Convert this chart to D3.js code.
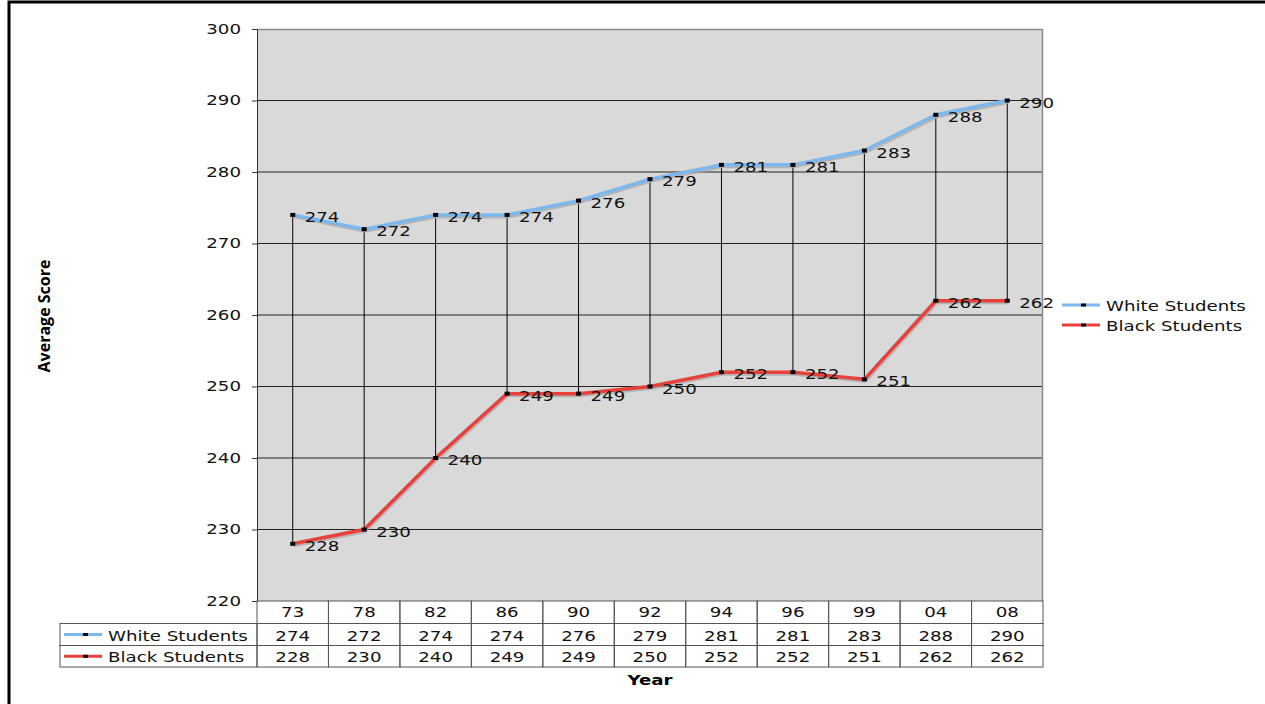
<!DOCTYPE html>
<html>
<head>
<meta charset="utf-8">
<script src="https://cdn.jsdelivr.net/npm/d3@7"></script>
<style>
  body { margin: 0; background: #fff; }
  svg { display: block; }
  text { font-family: Verdana, "DejaVu Sans", sans-serif; }
</style>
</head>
<body>
<div id="chart"></div>
<script>
const years = ['73', '78', '82', '86', '90', '92', '94', '96', '99', '04', '08']
const whiteScores = [274, 272, 274, 274, 276, 279, 281, 281, 283, 288, 290]
const blackScores = [228, 230, 240, 249, 249, 250, 252, 252, 251, 262, 262]
const yTicks = [220, 230, 240, 250, 260, 270, 280, 290, 300]

const series = [
  { name: 'White Students', values: whiteScores, color: '#7cb7ee' },
  { name: 'Black Students', values: blackScores, color: '#e8403b' }
]

const width = 1265
const height = 704
const plot = { left: 257, right: 1043, top: 29, bottom: 601 }
const fs = 14

const svg = d3.select('#chart').append('svg')
  .attr('width', width)
  .attr('height', height)

// outer frame (cut off at right and bottom)
svg.append('rect')
  .attr('x', 9).attr('y', 2)
  .attr('width', width + 20).attr('height', height + 20)
  .attr('fill', 'none').attr('stroke', '#000').attr('stroke-width', 3)

const x = d3.scaleBand().domain(years).range([plot.left, plot.right])
const y = d3.scaleLinear().domain([220, 300]).range([plot.bottom, plot.top])
const cx = (d) => x(d) + x.bandwidth() / 2

// plot background
svg.append('rect')
  .attr('x', plot.left).attr('y', plot.top)
  .attr('width', plot.right - plot.left).attr('height', plot.bottom - plot.top)
  .attr('fill', '#d9d9d9')

// grid
svg.append('g').selectAll('line')
  .data(yTicks.slice(1, -1))
  .join('line')
  .attr('x1', plot.left).attr('x2', plot.right)
  .attr('y1', (d) => y(d)).attr('y2', (d) => y(d))
  .attr('stroke', '#222').attr('stroke-width', 1)

// top / right border of plot
svg.append('path')
  .attr('d', `M${plot.left},${plot.top + 0.5}H${plot.right - 0.5}V${plot.bottom}`)
  .attr('fill', 'none').attr('stroke', '#8a8a8a').attr('stroke-width', 1.5)

// y axis
const yAxis = svg.append('g')
  .attr('transform', `translate(${plot.left},0)`)
  .call(d3.axisLeft(y).tickValues(yTicks).tickSize(5).tickPadding(11))
yAxis.select('.domain').attr('stroke', '#333')
yAxis.selectAll('.tick line').attr('stroke', '#333')
yAxis.selectAll('.tick text')
  .attr('class', 'wide')
  .attr('font-size', fs)
  .attr('fill', '#111')
  .style('font-family', 'Verdana, "DejaVu Sans", sans-serif')

// drop lines between series
svg.append('g').selectAll('line')
  .data(years)
  .join('line')
  .attr('x1', (d) => cx(d)).attr('x2', (d) => cx(d))
  .attr('y1', (d, i) => y(whiteScores[i]))
  .attr('y2', (d, i) => y(blackScores[i]))
  .attr('stroke', '#000').attr('stroke-width', 1)

const line = d3.line()
  .x((d, i) => cx(years[i]))
  .y((d) => y(d))

series.forEach((s) => {
  // shadow
  svg.append('path')
    .attr('d', line(s.values))
    .attr('transform', 'translate(1,2)')
    .attr('fill', 'none')
    .attr('stroke', '#aaa').attr('stroke-width', 3)
    .attr('stroke-opacity', 0.8)
  svg.append('path')
    .attr('d', line(s.values))
    .attr('fill', 'none')
    .attr('stroke', s.color).attr('stroke-width', 3.5)
    .attr('stroke-linejoin', 'round')

  svg.append('g').selectAll('rect')
    .data(s.values)
    .join('rect')
    .attr('x', (d, i) => cx(years[i]) - 2.5)
    .attr('y', (d) => y(d) - 2)
    .attr('width', 5).attr('height', 4)
    .attr('fill', '#000')

  svg.append('g').selectAll('text')
    .data(s.values)
    .join('text')
    .attr('class', 'wide')
    .attr('x', (d, i) => cx(years[i]) + 12)
    .attr('y', (d) => y(d) + 7)
    .attr('font-size', fs)
    .attr('fill', '#111')
    .text((d) => d)
})

// data table
const table = { left: 60, rows: [601, 623.5, 645.5, 667] }
const tg = svg.append('g')
const cellBorder = '#555'

// header row (years)
years.forEach((yr) => {
  tg.append('rect')
    .attr('x', x(yr)).attr('y', table.rows[0])
    .attr('width', x.bandwidth()).attr('height', table.rows[1] - table.rows[0])
    .attr('fill', 'none').attr('stroke', cellBorder)
  tg.append('text')
    .attr('class', 'wide')
    .attr('x', cx(yr)).attr('y', 617)
    .attr('text-anchor', 'middle')
    .attr('font-size', fs).attr('fill', '#111')
    .text(yr)
})

series.forEach((s, r) => {
  const top = table.rows[r + 1]
  const h = table.rows[r + 2] - top
  tg.append('rect')
    .attr('x', table.left).attr('y', top)
    .attr('width', plot.left - table.left).attr('height', h)
    .attr('fill', 'none').attr('stroke', cellBorder)
  tg.append('line')
    .attr('x1', table.left + 4).attr('x2', table.left + 42)
    .attr('y1', top + h / 2).attr('y2', top + h / 2)
    .attr('stroke', s.color).attr('stroke-width', 3)
  tg.append('rect')
    .attr('x', table.left + 23).attr('y', top + h / 2 - 1.5)
    .attr('width', 5).attr('height', 3)
    .attr('fill', '#000')
  tg.append('text')
    .attr('class', 'wide')
    .attr('x', table.left + 48).attr('y', top + h / 2 + 6)
    .attr('font-size', fs).attr('fill', '#111')
    .text(s.name)
  years.forEach((yr, i) => {
    tg.append('rect')
      .attr('x', x(yr)).attr('y', top)
      .attr('width', x.bandwidth()).attr('height', h)
      .attr('fill', 'none').attr('stroke', cellBorder)
    tg.append('text')
      .attr('class', 'wide')
      .attr('x', cx(yr)).attr('y', top + h / 2 + 6)
      .attr('text-anchor', 'middle')
      .attr('font-size', fs).attr('fill', '#111')
      .text(s.values[i])
  })
})

// legend on right
const legend = svg.append('g').attr('transform', 'translate(1062,305)')
series.forEach((s, i) => {
  const g = legend.append('g').attr('transform', `translate(0,${i * 20})`)
  g.append('line')
    .attr('x1', 0).attr('x2', 38).attr('y1', 0).attr('y2', 0)
    .attr('stroke', s.color).attr('stroke-width', 3)
  g.append('rect')
    .attr('x', 19).attr('y', -1.5).attr('width', 5).attr('height', 3)
    .attr('fill', '#000')
  g.append('text')
    .attr('class', 'wide')
    .attr('x', 44).attr('y', 6)
    .attr('font-size', fs).attr('fill', '#111')
    .text(s.name)
})

// axis titles
svg.append('text')
  .attr('transform', 'translate(50,316) rotate(-90)')
  .attr('text-anchor', 'middle')
  .attr('font-size', 16).attr('font-weight', 'bold')
  .style('font-family', '"Open Sans", "Noto Sans", sans-serif')
  .text('Average Score')

svg.append('text')
  .attr('class', 'wide')
  .attr('x', 650).attr('y', 685)
  .attr('text-anchor', 'middle')
  .attr('font-size', fs).attr('font-weight', 'bold')
  .text('Year')

// the original text is drawn horizontally stretched
svg.selectAll('text.wide').each(function () {
  const w = this.getComputedTextLength()
  d3.select(this)
    .attr('textLength', w * 1.3)
    .attr('lengthAdjust', 'spacingAndGlyphs')
})
</script>
</body>
</html>
